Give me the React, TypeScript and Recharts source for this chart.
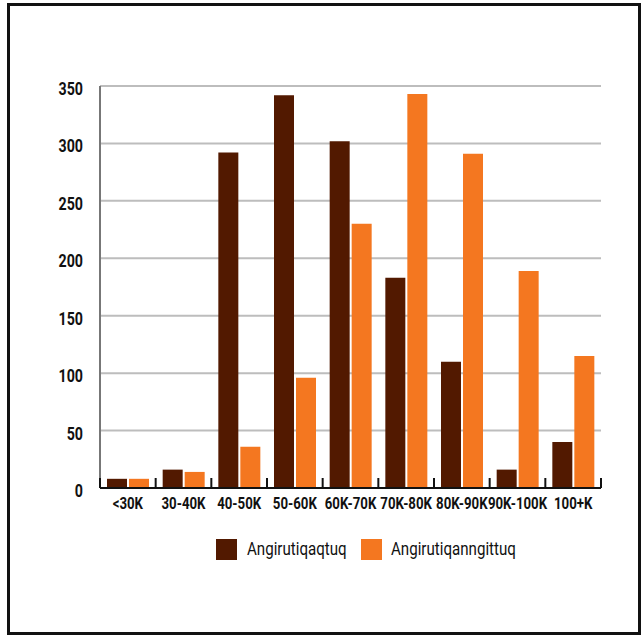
import { Bar, BarChart, CartesianGrid, XAxis, YAxis } from "recharts";

const categories = ["<30K", "30-40K", "40-50K", "50-60K", "60K-70K", "70K-80K", "80K-90K", "90K-100K", "100+K"];
const agreeValues = [8, 16, 292, 342, 302, 183, 110, 16, 40];
const disagreeValues = [8, 14, 36, 96, 230, 343, 291, 189, 115];
const yTicks = [0, 50, 100, 150, 200, 250, 300, 350];
const seriesNames = ["Angirutiqaqtuq", "Angirutiqanngittuq"];

const colors = ["#521900", "#f47720"];
const font = "Roboto, 'DejaVu Sans', sans-serif";

const data = categories.map((name, i) => ({
  name,
  agree: agreeValues[i],
  disagree: disagreeValues[i],
}));

// the original uses a condensed face, squeeze Roboto horizontally
function CategoryTick(props: any) {
  const { x, y, payload, index, visibleTicksCount } = props;
  const half = payload.offset || 0;
  const last = index === visibleTicksCount - 1;
  return (
    <g>
      <line x1={x - half} x2={x - half} y1={y - 10} y2={y} stroke="#111" strokeWidth={2} />
      {last && <line x1={x + half} x2={x + half} y1={y - 10} y2={y} stroke="#111" strokeWidth={2} />}
      <text
        transform={`translate(${x},${y + 21}) scale(0.78,1)`}
        textAnchor="middle"
        fontFamily={font}
        fontWeight="bold"
        fontSize={17}
        fill="#111"
      >
        {payload.value}
      </text>
    </g>
  );
}

function ValueTick(props: any) {
  const { x, y, payload } = props;
  return (
    <text
      transform={`translate(${x},${y + 9}) scale(0.79,1)`}
      textAnchor="end"
      fontFamily={font}
      fontWeight="bold"
      fontSize={18}
      fill="#111"
    >
      {payload.value}
    </text>
  );
}

export default function App() {
  return (
    <div style={{ position: "absolute", left: 0, top: 0, width: 642, height: 635, background: "#fff" }}>
      <div
        style={{
          position: "absolute",
          left: 7,
          top: 3,
          width: 634,
          height: 632,
          border: "3px solid #111",
          boxSizing: "border-box",
        }}
      />
      <div style={{ position: "absolute", left: 0, top: 0 }}>
        <BarChart
          width={642}
          height={635}
          data={data}
          margin={{ top: 86, right: 41, left: 0, bottom: 0 }}
          barSize={20}
          barGap={2}
        >
          <CartesianGrid vertical={false} stroke="#bdbdbd" strokeWidth={2} />
          <XAxis
            dataKey="name"
            height={147}
            axisLine={{ stroke: "#111", strokeWidth: 2 }}
            tickLine={false}
            tickSize={0}
            tickMargin={0}
            interval={0}
            tick={<CategoryTick />}
          />
          <YAxis
            width={100}
            domain={[0, 350]}
            ticks={yTicks}
            axisLine={{ stroke: "#777", strokeWidth: 2 }}
            tickLine={false}
            tickSize={0}
            tickMargin={17}
            tick={<ValueTick />}
          />
          <Bar dataKey="agree" name={seriesNames[0]} fill={colors[0]} isAnimationActive={false} />
          <Bar dataKey="disagree" name={seriesNames[1]} fill={colors[1]} isAnimationActive={false} />
        </BarChart>
      </div>
      <svg style={{ position: "absolute", left: 0, top: 530 }} width={642} height={40}>
        <rect x={216} y={9} width={21} height={21} fill={colors[0]} />
        <text transform="translate(247,25) scale(0.84,1)" fontFamily={font} fontSize={18} fill="#111">
          {seriesNames[0]}
        </text>
        <rect x={361} y={9} width={21} height={21} fill={colors[1]} />
        <text transform="translate(391,25) scale(0.84,1)" fontFamily={font} fontSize={18} fill="#111">
          {seriesNames[1]}
        </text>
      </svg>
    </div>
  );
}
